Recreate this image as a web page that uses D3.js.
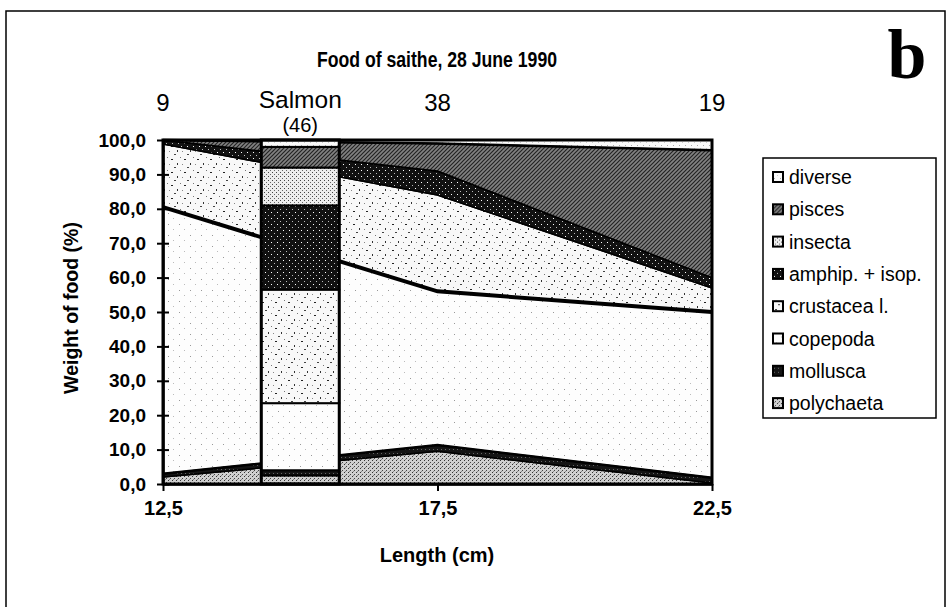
<!DOCTYPE html>
<html><head><meta charset="utf-8">
<script src="https://cdn.jsdelivr.net/npm/d3@7"></script>
<style>
body{margin:0;background:#fff;}
</style></head>
<body>
<svg id="chart" width="947" height="607" font-family='"Liberation Sans", Arial, sans-serif'></svg>
<script>
// ---- data ----
const lengths = [12.5, 17.5, 22.5];
const counts = ["9", "38", "19"];
const categories = ["polychaeta","mollusca","copepoda","crustacea l.","amphip. + isop.","insecta","pisces","diverse"];
const polychaeta = [2.0, 9.5, 0.3];
const mollusca   = [1.0, 1.8, 1.5];
const copepoda   = [77.5, 44.7, 48.2];
const crustacea  = [18.3, 28.0, 7.0];
const amphipIsop = [1.2, 7.0, 3.0];
const insecta    = [0, 0, 0];
const pisces     = [0, 8.0, 37.0];
const diverse    = [0, 1.0, 3.0];
// salmon comparison bar (46 fish), plotted at 15 cm
const salmonLength = 15.0;
const salmonLabel = ["Salmon", "(46)"];
const salmonValues = [2.5, 1.5, 19.5, 33.0, 24.5, 11.0, 6.0, 2.0];
const yTicks = [0,10,20,30,40,50,60,70,80,90,100];
const xTicks = [12.5, 17.5, 22.5];
const title = "Food of saithe, 28 June 1990";

const seriesArrays = [polychaeta, mollusca, copepoda, crustacea, amphipIsop, insecta, pisces, diverse];
const rows = lengths.map((L, i) => {
  const r = {len: L};
  categories.forEach((c, k) => r[c] = seriesArrays[k][i]);
  return r;
});

const svg = d3.select("#chart");
const defs = svg.append("defs");
const patIds = ["p-poly","p-moll","p-cope","p-crus","p-amph","p-ins","p-pisc","p-div"];

function pattern(id, size, bg, marks) {
  const p = defs.append("pattern").attr("id", id).attr("patternUnits","userSpaceOnUse")
    .attr("width", size).attr("height", size);
  p.append("rect").attr("width", size).attr("height", size).attr("fill", bg);
  marks.forEach(m => {
    if (m.line) p.append("path").attr("d", m.line).attr("stroke", m.c).attr("stroke-width", m.w || 1);
    else p.append("rect").attr("x", m[0]).attr("y", m[1]).attr("width", m[2]).attr("height", m[3]).attr("fill", m[4]);
  });
}
pattern("p-poly", 4, "#d0d0d0", [[0,0,1,1,"#333"],[2,2,1,1,"#444"],[1,3,1,1,"#888"]]);
pattern("p-moll", 4, "#141414", [[1,1,1,1,"#666"]]);
pattern("p-cope", 11, "#fdfdfd", [[3,4,1,1,"#999"],[8,9,1,1,"#bbb"]]);
pattern("p-crus", 13, "#f8f8f8", [[2,3,2,1,"#222"],[8,7,1,2,"#333"],[5,11,2,1,"#444"],[11,1,1,1,"#777"],[0,8,1,1,"#888"]]);
pattern("p-amph", 6, "#111", [[1,2,1,1,"#fff"],[4,5,1,1,"#bbb"]]);
pattern("p-ins", 4, "#eeeeee", [[0,0,1,1,"#444"],[2,2,1,1,"#666"]]);
pattern("p-pisc", 4, "#828282", [{line:"M0,4 L4,0 M-1,1 L1,-1 M3,5 L5,3", c:"#222", w:1.2}]);
pattern("p-div", 6, "#fafafa", [[1,1,1,1,"#aaa"],[4,4,1,1,"#ccc"]]);

// outer frame
svg.append("rect").attr("x",6).attr("y",11).attr("width",939).attr("height",620)
  .attr("fill","none").attr("stroke","#000").attr("stroke-width",1.5);

const x = d3.scaleLinear().domain([12.5, 22.5]).range([163, 712]);
const y = d3.scaleLinear().domain([0, 100]).range([484, 140]);

const stack = d3.stack().keys(categories);
const stacked = stack(rows);

const area = d3.area().x(d => x(d.data.len)).y0(d => y(d[0])).y1(d => y(d[1]));
const g = svg.append("g");
g.selectAll("path.layer").data(stacked).join("path")
  .attr("class","layer")
  .attr("d", area)
  .attr("fill", (d,i) => `url(#${patIds[i]})`)
  .attr("stroke","#000").attr("stroke-width",1.5).attr("stroke-linejoin","round");

// thick boundary lines (copepoda top, mollusca band, pisces top)
const line = d3.line().x(d => x(d.data.len)).y(d => y(d[1]));
g.append("path").datum(stacked[2]).attr("d", line).attr("fill","none").attr("stroke","#000").attr("stroke-width",4);
g.append("path").datum(stacked[1]).attr("d", line).attr("fill","none").attr("stroke","#000").attr("stroke-width",2.5);
g.append("path").datum(stacked[6]).attr("d", line).attr("fill","none").attr("stroke","#000").attr("stroke-width",2.5);

// salmon bar
const barHalf = 39;
let acc = 0;
const segs = salmonValues.map((v, i) => { const s = {y0: acc, y1: acc + v, i}; acc += v; return s; });
const bar = svg.append("g");
bar.selectAll("rect").data(segs).join("rect")
  .attr("x", x(salmonLength) - barHalf).attr("width", barHalf * 2)
  .attr("y", d => y(d.y1)).attr("height", d => y(d.y0) - y(d.y1))
  .attr("fill", d => `url(#${patIds[d.i]})`)
  .attr("stroke","#000").attr("stroke-width",2);
bar.append("rect").attr("x", x(salmonLength) - barHalf).attr("width", barHalf*2)
  .attr("y", y(100)).attr("height", y(0) - y(100))
  .attr("fill","none").attr("stroke","#000").attr("stroke-width",3);

// plot frame
svg.append("rect").attr("x", x(12.5)).attr("y", y(100)).attr("width", x(22.5)-x(12.5)).attr("height", y(0)-y(100))
  .attr("fill","none").attr("stroke","#000").attr("stroke-width",3);

// axes
const fmt = v => d3.format(".1f")(v).replace(".", ",");
const yAxis = d3.axisLeft(y).tickValues(yTicks).tickFormat(fmt).tickSizeInner(6).tickSizeOuter(0).tickPadding(11);
const ya = svg.append("g").attr("transform", `translate(${x(12.5)},0)`).call(yAxis);
ya.attr("font-family", null).attr("font-size", null);
ya.select(".domain").attr("stroke","#000").attr("stroke-width",2.5);
ya.selectAll(".tick line").attr("stroke","#000").attr("stroke-width",2).attr("x2",-6).attr("x1",6);
ya.selectAll(".tick text").attr("font-size",19).attr("font-weight","bold").attr("fill","#000");

const xAxis = d3.axisBottom(x).tickValues(xTicks).tickFormat(fmt).tickSizeInner(7).tickSizeOuter(0).tickPadding(10);
const xa = svg.append("g").attr("transform", `translate(0,${y(0)})`).call(xAxis);
xa.attr("font-family", null).attr("font-size", null);
xa.select(".domain").attr("stroke","#000").attr("stroke-width",2.5);
xa.selectAll(".tick line").attr("stroke","#000").attr("stroke-width",2);
xa.selectAll(".tick text").attr("font-size",20).attr("font-weight","bold").attr("fill","#000");

// axis titles
svg.append("text").attr("x", 437).attr("y", 562).attr("text-anchor","middle")
  .attr("font-size",20).attr("font-weight","bold").text("Length (cm)");
svg.append("text").attr("transform","translate(78,308) rotate(-90)").attr("text-anchor","middle")
  .attr("font-size",19.5).attr("font-weight","bold").text("Weight of food (%)");

// title and panel letter
svg.append("text").attr("x", 437).attr("y", 67).attr("text-anchor","middle")
  .attr("font-size",21.5).attr("font-weight","bold")
  .attr("textLength", 240).attr("lengthAdjust","spacingAndGlyphs").text(title);
svg.append("text").attr("x", 907).attr("y", 78).attr("text-anchor","middle")
  .attr("font-family",'"Liberation Serif","Times New Roman",serif')
  .attr("font-size",70).attr("font-weight","bold").text("b");

// sample counts above
svg.selectAll("text.count").data(lengths).join("text").attr("class","count")
  .attr("x", d => x(d)).attr("y", 111).attr("text-anchor","middle")
  .attr("font-size",24).text((d,i) => counts[i]);
svg.append("text").attr("x", x(salmonLength)).attr("y", 108).attr("text-anchor","middle")
  .attr("font-size",24.5).text(salmonLabel[0]);
svg.append("text").attr("x", x(salmonLength)).attr("y", 132).attr("text-anchor","middle")
  .attr("font-size",20).text(salmonLabel[1]);

// legend
const lg = svg.append("g");
lg.append("rect").attr("x",763).attr("y",158).attr("width",173).attr("height",260)
  .attr("fill","#fff").attr("stroke","#000").attr("stroke-width",1.5);
const legendOrder = categories.map((c,i) => i).reverse();
const items = lg.selectAll("g.item").data(legendOrder).join("g").attr("class","item")
  .attr("transform", (d, j) => `translate(773,${177 + j*32.3})`);
items.append("rect").attr("x",0).attr("y",-5).attr("width",10).attr("height",10)
  .attr("fill", d => `url(#${patIds[d]})`).attr("stroke","#000").attr("stroke-width",2);
items.append("text").attr("x",16).attr("y",7).attr("font-size",19.5).text(d => categories[d]);
</script>
</body></html>
